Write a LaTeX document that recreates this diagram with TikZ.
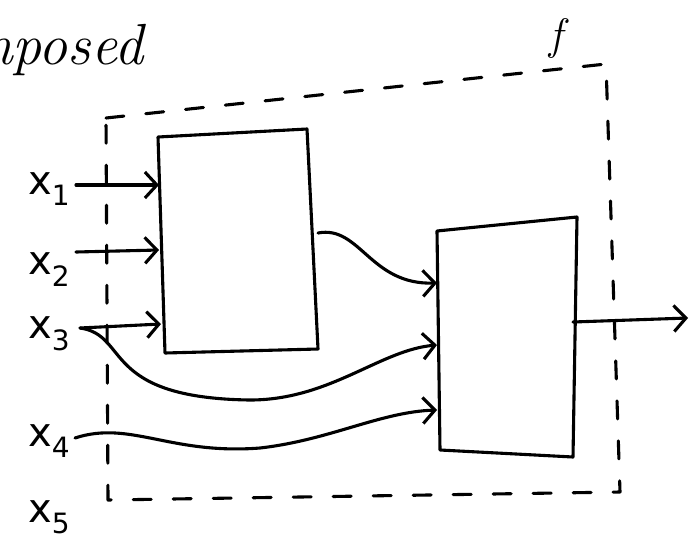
\documentclass[tikz,border=0pt]{standalone}
\usepackage{fontspec}
\newfontfamily\handfont{DejaVu Sans}
\usetikzlibrary{arrows.meta,calc}
\begin{document}
\begin{tikzpicture}[x=1pt,y=-1pt,
  ink/.style={line width=3.1pt,line cap=round,line join=round},
  wire/.style={ink,-{Straight Barb[length=12pt,width=26pt,line width=3.1pt]}},
  boxline/.style={ink},
  frame/.style={ink,dash pattern=on 18pt off 22pt},
  lbl/.style={font=\handfont\fontsize{40}{42}\selectfont,inner sep=0pt,anchor=base west}]
\useasboundingbox (0,0) rectangle (700,541);
% title and f
\node[font=\fontsize{58}{60}\selectfont\itshape,inner sep=0pt,anchor=base west] (title) at (-86,64) {composed};
\node[font=\fontsize{44}{46}\selectfont\itshape,inner sep=0pt] (fname) at (556,38) {f};
% dashed frame
\coordinate (ftl) at (106,118);
\coordinate (ftr) at (606,64);
\coordinate (fbr) at (620,492);
\coordinate (fbl) at (108,500);
\draw[frame] (ftl) -- (ftr) -- (fbr) -- (fbl) -- cycle;
% boxes
\coordinate (a1) at (158,137);
\coordinate (a2) at (307,129);
\coordinate (a3) at (318,349);
\coordinate (a4) at (165,353);
\draw[boxline] (a1) -- (a2) -- (a3) -- (a4) -- cycle;
\coordinate (b1) at (437,231);
\coordinate (b2) at (577,217);
\coordinate (b3) at (573,457);
\coordinate (b4) at (440,450);
\draw[boxline] (b1) -- (b2) -- (b3) -- (b4) -- cycle;
% labels
\node[lbl] (x1) at (28,194) {x\textsubscript{1}};
\node[lbl] (x2) at (28,274) {x\textsubscript{2}};
\node[lbl] (x3) at (28,338) {x\textsubscript{3}};
\node[lbl] (x4) at (28,446) {x\textsubscript{4}};
\node[lbl] (x5) at (28,522) {x\textsubscript{5}};
% ports
\coordinate (s1) at (76,185);
\coordinate (s2) at (76,252);
\coordinate (s3) at (80,328);
\coordinate (s4) at (75,438);
\coordinate (p1) at (159,185);
\coordinate (p2) at (159,250);
\coordinate (p3) at (161,324);
\coordinate (q0) at (318,233);
\coordinate (q1) at (437,283);
\coordinate (q2) at (437,345);
\coordinate (q3) at (437,410);
\coordinate (o1) at (573,322);
\coordinate (o2) at (688,318);
\draw[wire] (s1) -- (p1);
\draw[wire] (s2) -- (p2);
\draw[wire] (s3) -- (p3);
\draw[wire] (q0) .. controls (360,225) and (370,285) .. (q1);
\draw[wire] (s3) .. controls (130,335) and (100,398) .. (250,400) .. controls (330,400) and (380,350) .. (q2);
\draw[wire] (s4) .. controls (130,420) and (170,455) .. (260,448) .. controls (330,440) and (380,412) .. (q3);
\draw[wire] (o1) -- (o2);
\end{tikzpicture}
\end{document}
